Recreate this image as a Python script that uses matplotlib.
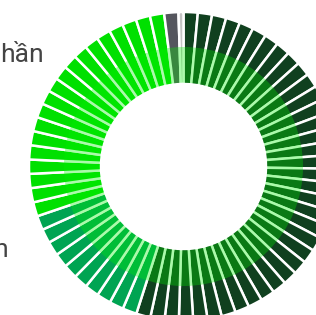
import numpy as np
import matplotlib
matplotlib.use('Agg')
import matplotlib.pyplot as plt

plt.rcParams['font.family'] = ['Roboto', 'DejaVu Sans']

# one entry per slice, clockwise from 12 o'clock
slice_groups = ['dark'] * 37 + ['teal'] * 10 + ['bright'] * 19 + ['gray', 'light']
slice_values = [1] * 37 + [1] * 10 + [1] * 19 + [1, 0.35]

group_colors = {
    'dark': '#10401f',
    'teal': '#00a452',
    'bright': '#00e000',
    'gray': '#55565e',
    'light': '#c4c4c4',
}

labels = ['hần', 'n']

W, H = 316, 315
fig = plt.figure(figsize=(W / 100, H / 100), dpi=100)
ax = fig.add_axes([0, 0, 1, 1])

cx, cy = 183.5, H - 166.5
r_out, r_mid, r_in = 154.5, 119.5, 82.5

colors = [group_colors[g] for g in slice_groups]
ax.pie(slice_values, colors=colors, startangle=90, counterclock=False,
       radius=r_out, center=(cx, cy),
       wedgeprops=dict(width=r_out - r_in, edgecolor='white', linewidth=1.8))

# translucent inner band (kept clear of the white inner outline)
band_in = r_in + 1.3
ax.pie([1], colors=[(0.0, 0.94, 0.0, 0.33)], radius=r_mid, center=(cx, cy),
       wedgeprops=dict(width=r_mid - band_in, linewidth=0))

ax.text(44, H - 62, labels[0], ha='right', va='baseline', fontsize=19, color='#444444')
ax.text(7.5, H - 257, labels[1], ha='right', va='baseline', fontsize=19, color='#444444')

ax.set_xlim(0, W)
ax.set_ylim(0, H)
ax.set_aspect('auto')
ax.axis('off')

fig.savefig('out.png', dpi=100)
